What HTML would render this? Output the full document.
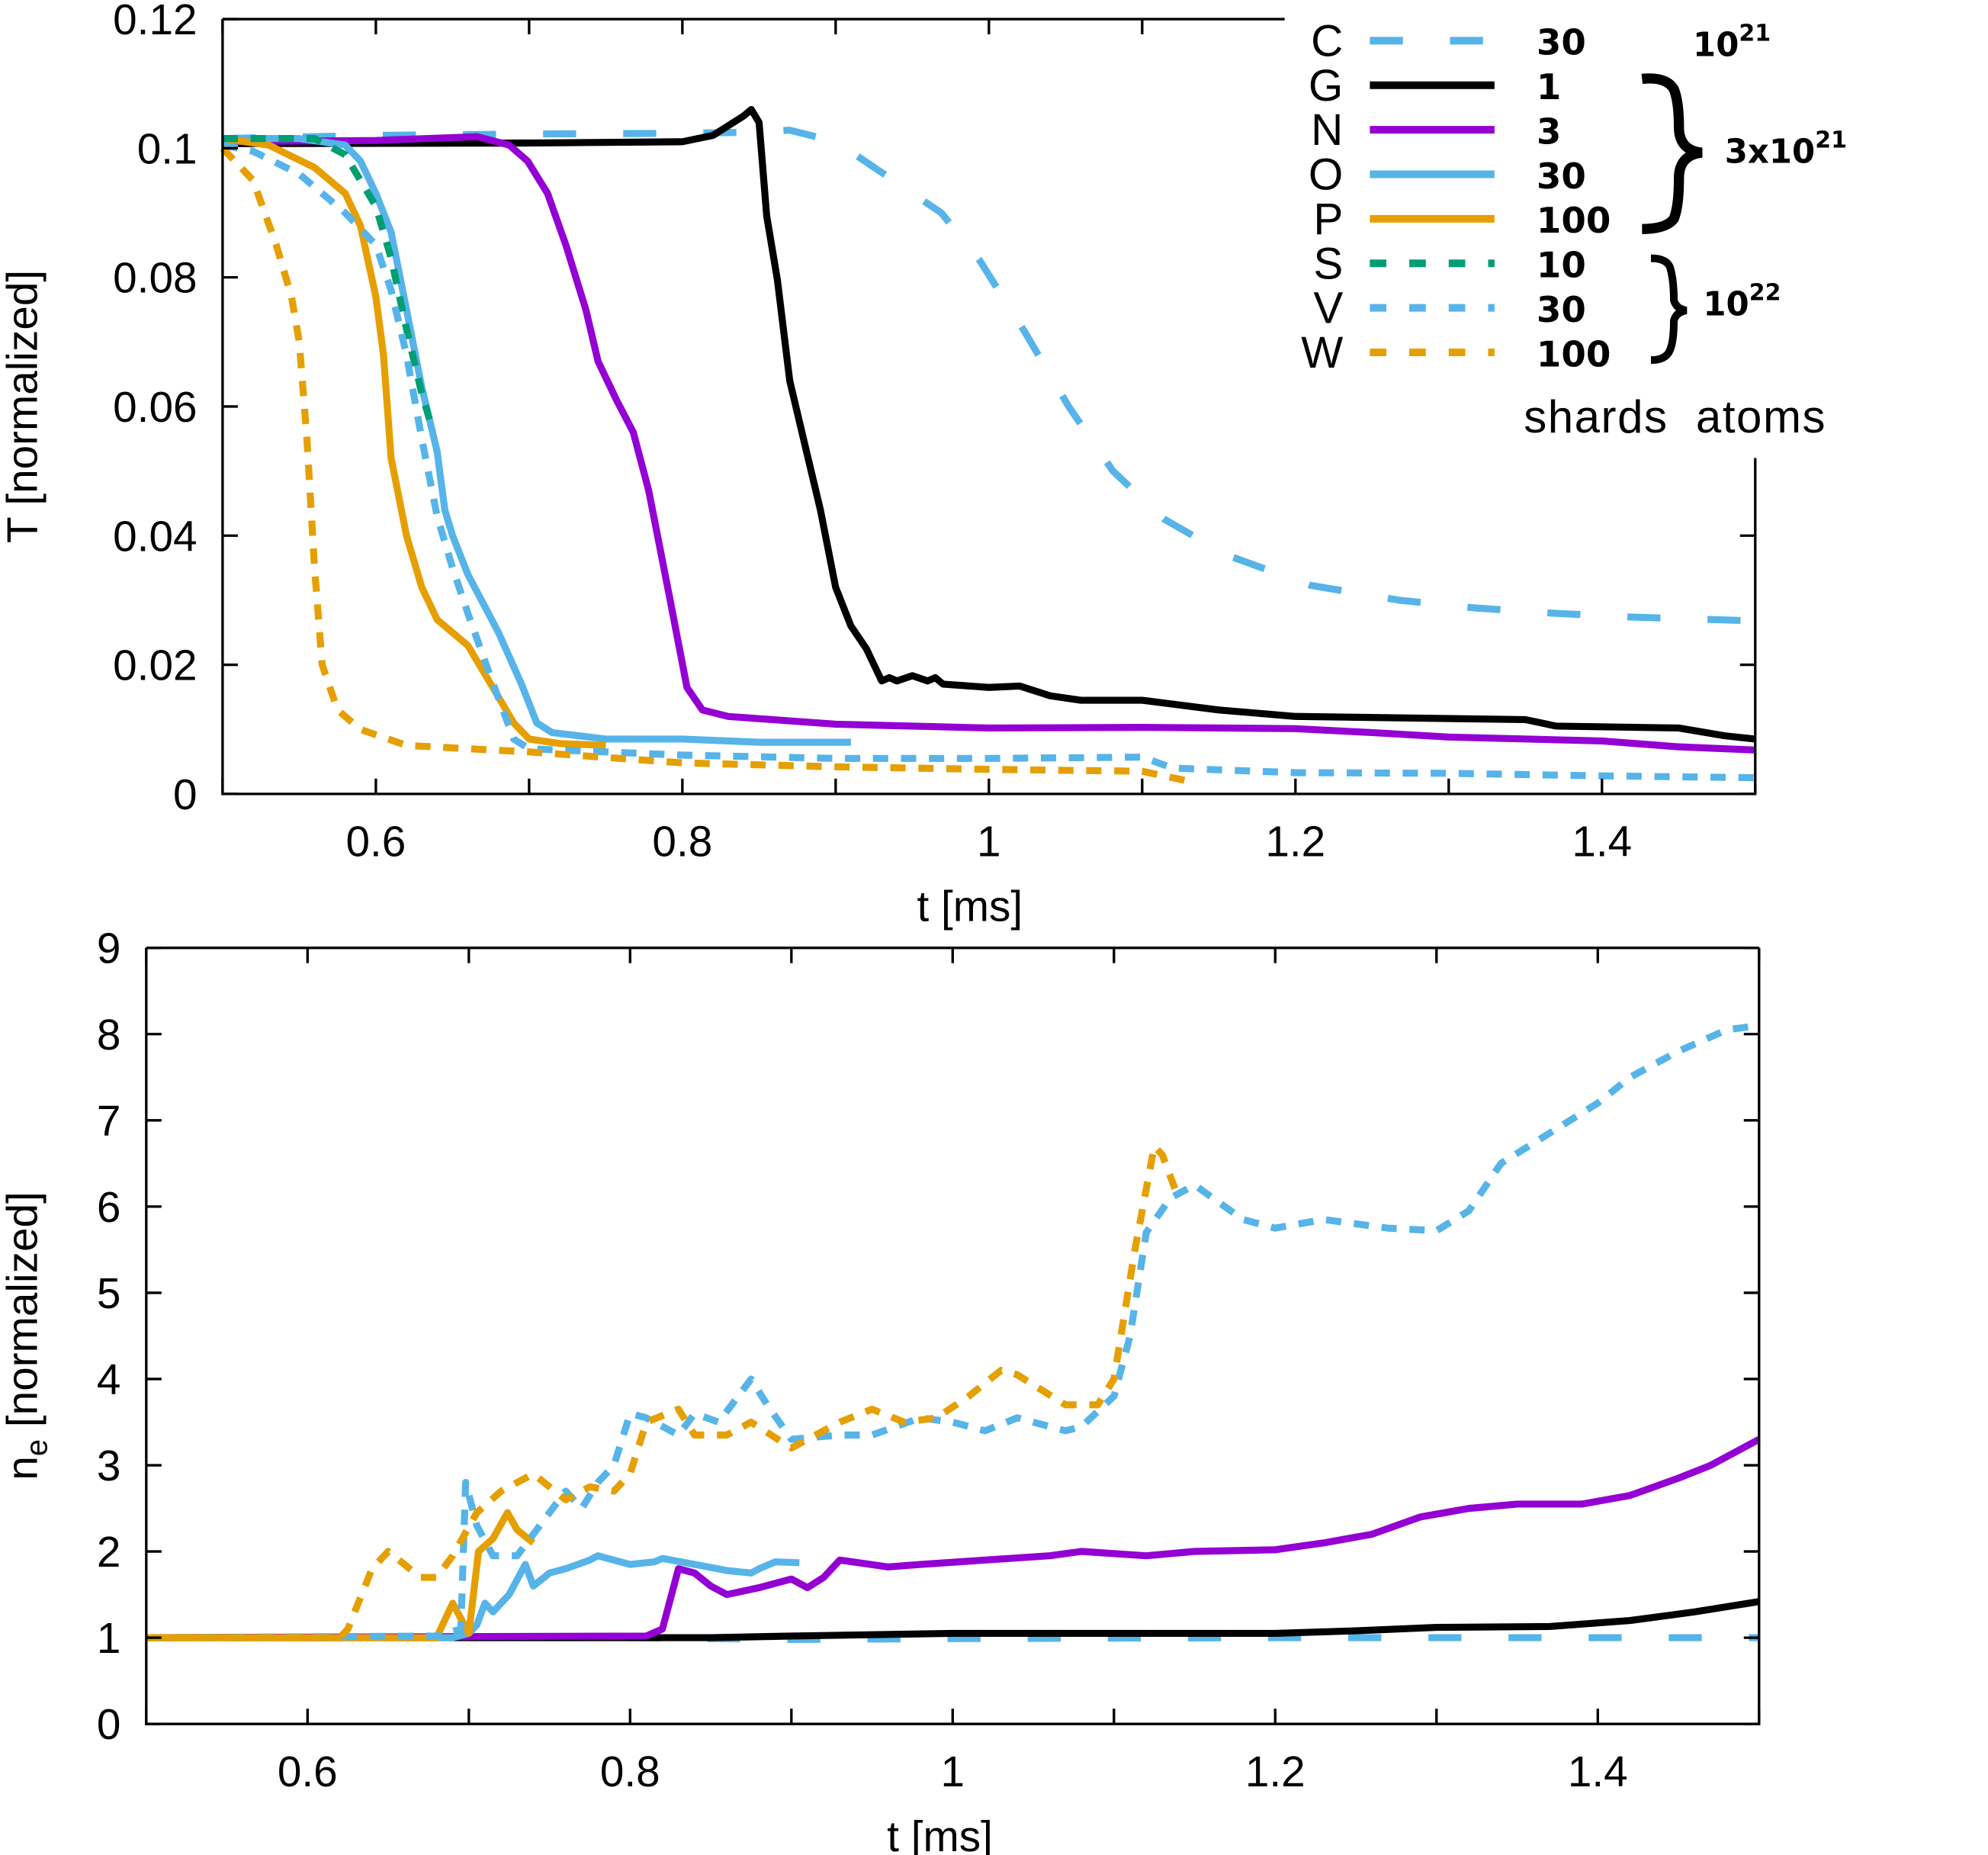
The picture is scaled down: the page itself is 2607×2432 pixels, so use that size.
<!DOCTYPE html>
<html><head><meta charset="utf-8"><style>
html,body{margin:0;padding:0;background:#fff}
svg{display:block}
text{font-family:"Liberation Sans","DejaVu Sans",sans-serif;fill:#000}
.lg{font-family:"DejaVu Sans","Liberation Sans",sans-serif;font-weight:bold}
</style></head><body>
<svg id="chart" width="2607" height="2432" viewBox="0 0 1563 1458" preserveAspectRatio="none" xmlns="http://www.w3.org/2000/svg">
<g id="top"></g>
<g id="bot"></g>
<g id="legend">
 <text x="1056" y="44" font-size="35" text-anchor="end">C</text>
 <text x="1056" y="79" font-size="35" text-anchor="end">G</text>
 <text x="1056" y="114" font-size="35" text-anchor="end">N</text>
 <text x="1056" y="149" font-size="35" text-anchor="end">O</text>
 <text x="1056" y="184" font-size="35" text-anchor="end">P</text>
 <text x="1056" y="219" font-size="35" text-anchor="end">S</text>
 <text x="1056" y="254" font-size="35" text-anchor="end">V</text>
 <text x="1056" y="289" font-size="35" text-anchor="end">W</text>
 <text class="lg" x="1208" y="43" font-size="28">30</text>
 <text class="lg" x="1208" y="78" font-size="28">1</text>
 <text class="lg" x="1208" y="113" font-size="28">3</text>
 <text class="lg" x="1208" y="148" font-size="28">30</text>
 <text class="lg" x="1208" y="183" font-size="28">100</text>
 <text class="lg" x="1208" y="218" font-size="28">10</text>
 <text class="lg" x="1208" y="253" font-size="28">30</text>
 <text class="lg" x="1208" y="288" font-size="28">100</text>
 <text class="lg" x="1331" y="44" font-size="26">10<tspan font-size="18" dy="-12">21</tspan></text>
 <text class="lg" x="1356" y="128" font-size="26">3x10<tspan font-size="18" dy="-12">21</tspan></text>
 <text class="lg" x="1339" y="248" font-size="26">10<tspan font-size="18" dy="-12">22</tspan></text>
 <path d="M1291,62 Q1310,60 1316,70 Q1320,80 1320,100 Q1320,118 1338,120 Q1320,122 1320,140 Q1320,162 1316,172 Q1310,180 1291,180" fill="none" stroke="#000" stroke-width="8"/>
 <path d="M1298,203 Q1310,203 1313,210 Q1316,220 1316,236 Q1318,243 1326,244 Q1318,245 1316,252 Q1316,268 1313,275 Q1310,283 1298,283" fill="none" stroke="#000" stroke-width="6"/>
 <text x="1198" y="340" font-size="36" font-family="DejaVu Sans, sans-serif" textLength="237">shards&#160;&#160;atoms</text>
</g>
</svg>
<script>
const seriesNames=['C','G','N','O','P','S','V','W'];
const colors={C:'#56b4e9',G:'#000000',N:'#9400d3',O:'#56b4e9',P:'#e69f00',S:'#009e73',V:'#56b4e9',W:'#e69f00'};
const dashes={C:'26 37',G:'',N:'',O:'',P:'',S:'12 10',V:'12 10',W:'12 10'};
const topTicksX=[0.5,0.6,0.7,0.8,0.9,1.0,1.1,1.2,1.3,1.4,1.5];
const topTickLabelsX=['','0.6','','0.8','','1','','1.2','','1.4',''];
const topTicksY=[0,0.02,0.04,0.06,0.08,0.1,0.12];
const topTickLabelsY=['0','0.02','0.04','0.06','0.08','0.1','0.12'];
const botTicksY=[0,1,2,3,4,5,6,7,8,9];
const tC=[[0.5,0.1015],[0.6,0.102],[0.7,0.1022],[0.8,0.1023],[0.85,0.1025],[0.87,0.1028],[0.9,0.101],[0.919,0.098],[0.969,0.090],[0.994,0.0826],[1.023,0.0717],[1.052,0.060],[1.081,0.050],[1.114,0.0426],[1.155,0.037],[1.21,0.0323],[1.268,0.030],[1.317,0.0288],[1.367,0.028],[1.417,0.0274],[1.5,0.0268]];
const tG=[[0.5,0.1007],[0.7,0.1008],[0.8,0.101],[0.82,0.102],[0.84,0.105],[0.845,0.106],[0.85,0.104],[0.855,0.0895],[0.862,0.0796],[0.87,0.064],[0.88,0.054],[0.89,0.044],[0.9,0.032],[0.91,0.026],[0.92,0.0225],[0.93,0.0175],[0.935,0.018],[0.94,0.0175],[0.95,0.0183],[0.96,0.0175],[0.965,0.018],[0.97,0.017],[1.0,0.0165],[1.02,0.0167],[1.04,0.0152],[1.06,0.0145],[1.1,0.0145],[1.15,0.013],[1.2,0.012],[1.35,0.0115],[1.37,0.0105],[1.45,0.0102],[1.48,0.009],[1.5,0.0085]];
const tN=[[0.5,0.101],[0.6,0.1012],[0.666,0.1018],[0.687,0.1005],[0.699,0.098],[0.712,0.093],[0.724,0.085],[0.737,0.075],[0.745,0.067],[0.757,0.061],[0.768,0.056],[0.778,0.047],[0.792,0.03],[0.803,0.0165],[0.813,0.013],[0.83,0.012],[0.9,0.0108],[1.0,0.0102],[1.1,0.0103],[1.2,0.0101],[1.25,0.0095],[1.3,0.0088],[1.4,0.0082],[1.45,0.0073],[1.5,0.0068]];
const tO=[[0.5,0.1015],[0.55,0.1015],[0.58,0.1005],[0.59,0.098],[0.6,0.093],[0.61,0.087],[0.62,0.075],[0.63,0.063],[0.64,0.053],[0.645,0.044],[0.65,0.04],[0.66,0.034],[0.68,0.025],[0.695,0.017],[0.705,0.011],[0.715,0.0095],[0.75,0.0085],[0.8,0.0085],[0.85,0.008],[0.91,0.008]];
const tP=[[0.5,0.1015],[0.53,0.1005],[0.56,0.097],[0.58,0.093],[0.59,0.088],[0.6,0.077],[0.605,0.068],[0.61,0.052],[0.62,0.04],[0.63,0.032],[0.64,0.027],[0.66,0.023],[0.675,0.017],[0.69,0.011],[0.7,0.0085],[0.72,0.0078],[0.75,0.0075]];
const tS=[[0.5,0.1015],[0.56,0.1015],[0.58,0.099],[0.6,0.091],[0.61,0.083],[0.62,0.072],[0.63,0.062],[0.635,0.058]];
const tV=[[0.5,0.1005],[0.52,0.0995],[0.55,0.096],[0.58,0.09],[0.6,0.085],[0.61,0.078],[0.62,0.068],[0.63,0.055],[0.64,0.043],[0.65,0.035],[0.66,0.028],[0.675,0.018],[0.69,0.0085],[0.7,0.007],[0.75,0.0065],[0.8,0.006],[0.9,0.0055],[1.0,0.0055],[1.1,0.0057],[1.12,0.004],[1.2,0.0033],[1.3,0.0032],[1.4,0.0028],[1.5,0.0025]];
const tW=[[0.5,0.1],[0.52,0.095],[0.535,0.085],[0.545,0.077],[0.55,0.07],[0.555,0.055],[0.56,0.035],[0.565,0.02],[0.575,0.013],[0.59,0.01],[0.62,0.0075],[0.7,0.0065],[0.8,0.0048],[0.9,0.0042],[1.0,0.0038],[1.1,0.0035],[1.13,0.002]];
const nC=[[0.5,1],[0.8,1],[0.9,0.98],[1.0,0.99],[1.2,1.0],[1.5,1.0]];
const nG=[[0.5,1],[0.85,1],[0.9,1.02],[1.0,1.05],[1.2,1.05],[1.25,1.08],[1.3,1.12],[1.37,1.13],[1.42,1.2],[1.46,1.3],[1.5,1.42]];
const nN=[[0.5,1],[0.81,1.02],[0.82,1.1],[0.83,1.8],[0.84,1.75],[0.85,1.6],[0.86,1.5],[0.88,1.58],[0.9,1.68],[0.91,1.58],[0.92,1.7],[0.93,1.9],[0.96,1.82],[0.98,1.85],[1.02,1.9],[1.06,1.95],[1.08,2.0],[1.12,1.95],[1.15,2.0],[1.2,2.02],[1.23,2.1],[1.26,2.2],[1.29,2.4],[1.32,2.5],[1.35,2.55],[1.39,2.55],[1.42,2.65],[1.45,2.85],[1.47,3.0],[1.5,3.3]];
const nO=[[0.5,1],[0.69,1],[0.7,1.05],[0.705,1.15],[0.71,1.4],[0.715,1.3],[0.725,1.5],[0.735,1.85],[0.74,1.6],[0.75,1.75],[0.76,1.8],[0.775,1.9],[0.78,1.95],[0.8,1.85],[0.815,1.88],[0.82,1.92],[0.84,1.85],[0.86,1.78],[0.875,1.75],[0.88,1.8],[0.89,1.88],[0.905,1.87]];
const nP=[[0.5,1],[0.68,1],[0.69,1.4],[0.7,1.05],[0.706,2.0],[0.715,2.15],[0.724,2.45],[0.73,2.25],[0.74,2.1]];
const nS=[];
const nV=[[0.5,1],[0.68,1.02],[0.695,1.1],[0.698,2.8],[0.705,2.3],[0.715,1.95],[0.73,1.95],[0.74,2.2],[0.76,2.7],[0.77,2.5],[0.78,2.8],[0.79,3.0],[0.8,3.6],[0.81,3.55],[0.83,3.35],[0.84,3.6],[0.855,3.5],[0.875,4.0],[0.885,3.7],[0.9,3.3],[0.93,3.35],[0.95,3.35],[0.98,3.55],[1.0,3.5],[1.02,3.4],[1.04,3.55],[1.07,3.4],[1.08,3.45],[1.1,3.8],[1.11,4.5],[1.12,5.7],[1.135,6.1],[1.15,6.25],[1.18,5.85],[1.2,5.75],[1.23,5.85],[1.27,5.75],[1.3,5.72],[1.32,5.95],[1.34,6.5],[1.37,6.85],[1.4,7.2],[1.42,7.5],[1.45,7.8],[1.48,8.05],[1.5,8.1]];
const nW=[[0.5,1],[0.62,1],[0.625,1.1],[0.64,1.8],[0.65,2.0],[0.67,1.7],[0.68,1.7],[0.69,1.95],[0.705,2.45],[0.72,2.7],[0.74,2.9],[0.75,2.75],[0.76,2.6],[0.775,2.75],[0.79,2.7],[0.8,2.9],[0.81,3.5],[0.83,3.65],[0.84,3.35],[0.86,3.35],[0.875,3.5],[0.9,3.2],[0.93,3.5],[0.95,3.65],[0.97,3.5],[0.99,3.55],[1.01,3.8],[1.03,4.1],[1.04,4.05],[1.07,3.7],[1.09,3.7],[1.1,4.0],[1.113,5.5],[1.125,6.7],[1.13,6.6],[1.14,6.1]];
const topData={C:tC,G:tG,N:tN,O:tO,P:tP,S:tS,V:tV,W:tW};
const botData={C:nC,G:nG,N:nN,O:nO,P:nP,S:nS,V:nV,W:nW};

const NS='http://www.w3.org/2000/svg';
function mk(parent,tag,attrs){const e=document.createElementNS(NS,tag);for(const k in attrs)e.setAttribute(k,attrs[k]);parent.appendChild(e);return e;}

function panel(g,L,R,T,B,xmin,xmax,ymin,ymax,yTicks,yLabels,data,ytitle,sub,topBreak,rightBreak,prefix){
  const sx=v=>L+(v-xmin)/(xmax-xmin)*(R-L);
  const sy=v=>B-(v-ymin)/(ymax-ymin)*(B-T);
  seriesNames.forEach(n=>{
    const d=data[n]; if(!d.length) return;
    const p=mk(g,'polyline',{points:d.map(q=>sx(q[0]).toFixed(1)+','+sy(q[1]).toFixed(1)).join(' '),fill:'none',stroke:colors[n],'stroke-width':5.5,'stroke-linejoin':'round'});
    if(dashes[n]) p.setAttribute('stroke-dasharray',dashes[n]);
    
    
  });
  const f=mk(g,'path',{d:`M${L},${T} L${L},${B} L${R},${B} L${R},${rightBreak} M${L},${T} L${topBreak},${T}`,fill:'none',stroke:'#000','stroke-width':2});
  
  
  topTicksX.forEach((v,i)=>{
    const x=sx(v);
    mk(g,'line',{x1:x,y1:B,x2:x,y2:B-12,stroke:'#000','stroke-width':2});
    if(x<=topBreak||rightBreak<=T+1) mk(g,'line',{x1:x,y1:T,x2:x,y2:T+12,stroke:'#000','stroke-width':2});
    if(topTickLabelsX[i]){const t=mk(g,'text',{x:x,y:B+49,'font-size':34,'text-anchor':'middle'});t.textContent=topTickLabelsX[i];
      
      }
  });
  yTicks.forEach((v,i)=>{
    const y=sy(v);
    mk(g,'line',{x1:L,y1:y,x2:L+12,y2:y,stroke:'#000','stroke-width':2});
    if(y>=rightBreak) mk(g,'line',{x1:R,y1:y,x2:R-12,y2:y,stroke:'#000','stroke-width':2});
    const t=mk(g,'text',{x:L-20,y:y+12,'font-size':34,'text-anchor':'end'});t.textContent=yLabels[i];
    
    
  });
  const xt=mk(g,'text',{x:(L+R)/2-10+(prefix==='top'?-5:0),y:B+100,'font-size':34,'text-anchor':'middle'});xt.textContent='t [ms]';
  
  
  const cy=(T+B)/2;
  const yt=mk(g,'text',{x:0,y:0,'font-size':34,'text-anchor':'middle',transform:`translate(29,${cy}) rotate(-90)`});
  if(sub){yt.innerHTML='n<tspan font-size="24" dy="8">e</tspan><tspan dy="-8"> [normalized]</tspan>';}else yt.textContent=ytitle;
  
  
}
panel(document.getElementById('top'),175,1380,15,624,0.5,1.5,0,0.12,topTicksY,topTickLabelsY,topData,'T [normalized]',false,1010,360,'top');
panel(document.getElementById('bot'),115,1383,745,1355,0.5,1.5,0,9,botTicksY,botTicksY.map(String),botData,'',true,1383,745,'bottom');
const lg=document.getElementById('legend');
seriesNames.forEach((n,i)=>{
  const y=32+i*35;
  const l=mk(lg,'line',{x1:1077,y1:y,x2:1175,y2:y,stroke:colors[n],'stroke-width':6});
  if(dashes[n]) l.setAttribute('stroke-dasharray',n==='C'?'26 37':'13 18');
  
  
});
</script>
</body></html>
